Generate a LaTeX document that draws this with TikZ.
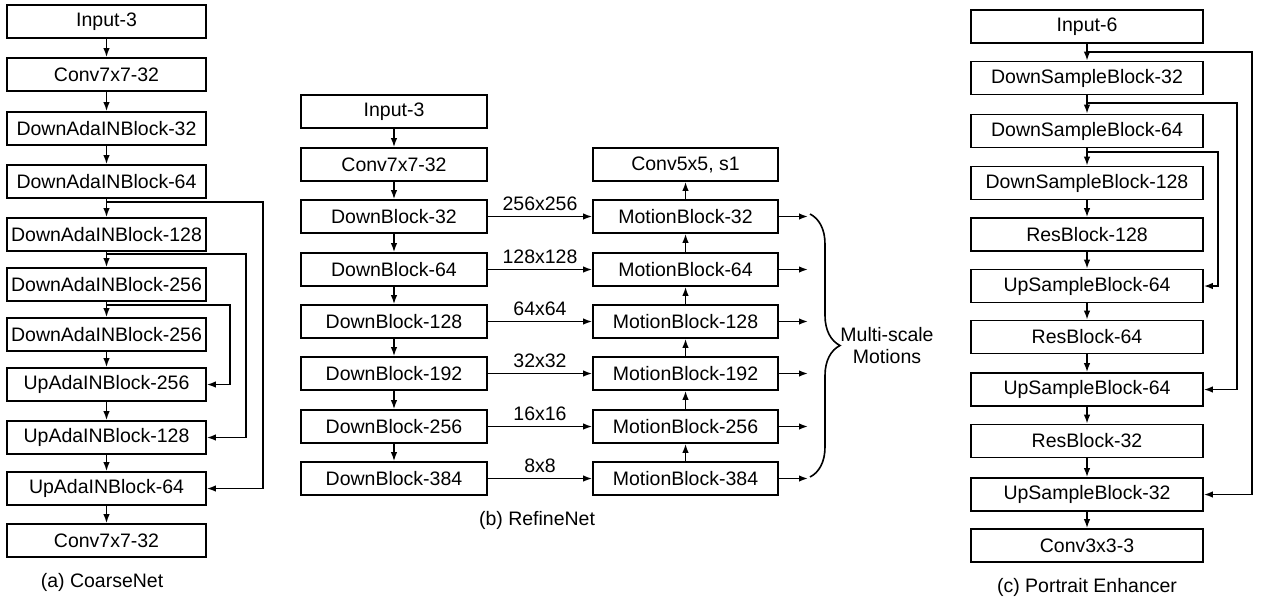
\documentclass[tikz,border=0pt]{standalone}
\usepackage{fontspec}
\setmainfont{Liberation Sans}
\usetikzlibrary{arrows.meta,decorations.pathreplacing}

\begin{document}
\begin{tikzpicture}[x=1pt,y=-1pt,
  txt/.style={font=\fontsize{19.5}{22}\selectfont},
  blk/.style={txt,draw,line width=1.7pt,minimum height=33pt,inner sep=0pt},
  ablk/.style={blk,minimum width=199pt},
  bblk/.style={blk,minimum width=186pt},
  mblk/.style={blk,minimum width=185pt},
  cblk/.style={blk,minimum width=232pt},
  arr/.style={line width=1.6pt,-{Latex[length=9pt,width=6.5pt]}},
  lbl/.style={txt,inner sep=0pt}]
\useasboundingbox (0,0) rectangle (1261,600);

% ---------------- (a) CoarseNet ----------------
\node[ablk] (a1)  at (106.5,21.5)  {Input-3};
\node[ablk] (a2)  at (106.5,74.5)  {Conv7x7-32};
\node[ablk] (a3)  at (106.5,128.5) {DownAdaINBlock-32};
\node[ablk] (a4)  at (106.5,181.5) {DownAdaINBlock-64};
\node[ablk] (a5)  at (106.5,234.5) {DownAdaINBlock-128};
\node[ablk] (a6)  at (106.5,284.5) {DownAdaINBlock-256};
\node[ablk] (a7)  at (106.5,334.5) {DownAdaINBlock-256};
\node[ablk] (a8)  at (106.5,384.5) {UpAdaINBlock-256};
\node[ablk] (a9)  at (106.5,437.5) {UpAdaINBlock-128};
\node[ablk] (a10) at (106.5,488.5) {UpAdaINBlock-64};
\node[ablk] (a11) at (106.5,540.5) {Conv7x7-32};
\foreach \u/\v in {a1/a2,a2/a3,a3/a4,a4/a5,a5/a6,a6/a7,a7/a8,a8/a9,a9/a10,a10/a11}
  \draw[arr] (\u) -- (\v);

% skip connections
\coordinate (ra1) at (263,0);
\coordinate (ra2) at (246,0);
\coordinate (ra3) at (230,0);
\coordinate (ja1) at ([yshift=-3pt]a4.south);
\coordinate (ja2) at ([yshift=-2pt]a5.south);
\coordinate (ja3) at ([yshift=-3pt]a6.south);
\draw[arr] (ja1) -- (ja1 -| ra1) |- (a10.east);
\draw[arr] (ja2) -- (ja2 -| ra2) |- (a9.east);
\draw[arr] (ja3) -- (ja3 -| ra3) |- (a8.east);

\node[lbl] (capa) at (102,582) {(a) CoarseNet};

% ---------------- (b) RefineNet ----------------
\node[bblk] (b1) at (394,111.5) {Input-3};
\node[bblk] (b2) at (394,164.5) {Conv7x7-32};
\node[bblk] (b3) at (394,216.5) {DownBlock-32};
\node[bblk] (b4) at (394,269.5) {DownBlock-64};
\node[bblk] (b5) at (394,321.5) {DownBlock-128};
\node[bblk] (b6) at (394,373.5) {DownBlock-192};
\node[bblk] (b7) at (394,426.5) {DownBlock-256};
\node[bblk] (b8) at (394,478.5) {DownBlock-384};
\foreach \u/\v in {b1/b2,b2/b3,b3/b4,b4/b5,b5/b6,b6/b7,b7/b8}
  \draw[arr] (\u) -- (\v);

\node[mblk] (m2) at (685.5,164.5) {Conv5x5, s1};
\node[mblk] (m3) at (685.5,216.5) {MotionBlock-32};
\node[mblk] (m4) at (685.5,269.5) {MotionBlock-64};
\node[mblk] (m5) at (685.5,321.5) {MotionBlock-128};
\node[mblk] (m6) at (685.5,373.5) {MotionBlock-192};
\node[mblk] (m7) at (685.5,426.5) {MotionBlock-256};
\node[mblk] (m8) at (685.5,478.5) {MotionBlock-384};
\foreach \u/\v in {m8/m7,m7/m6,m6/m5,m5/m4,m4/m3,m3/m2}
  \draw[arr] (\u) -- (\v);

\draw[arr] (b3) -- node[lbl,above=5pt] {256x256} (m3);
\draw[arr] (b4) -- node[lbl,above=5pt] {128x128} (m4);
\draw[arr] (b5) -- node[lbl,above=5pt] {64x64} (m5);
\draw[arr] (b6) -- node[lbl,above=5pt] {32x32} (m6);
\draw[arr] (b7) -- node[lbl,above=5pt] {16x16} (m7);
\draw[arr] (b8) -- node[lbl,above=5pt] {8x8} (m8);

\coordinate (ox) at (808,0);
\foreach \m in {m3,m4,m5,m6,m7,m8}
  \draw[arr] (\m.east) -- (\m.east -| ox);

\coordinate (bt) at (810,214);
\coordinate (bb) at (810,477);
\draw[line width=1.6pt,decorate,decoration={brace,amplitude=30pt}] (bt) -- (bb);
\node[lbl,align=center] (ms) at (887,346) {Multi-scale\\Motions};

\node[lbl] (capb) at (537,520) {(b) RefineNet};

% ---------------- (c) Portrait Enhancer ----------------
\node[cblk] (c1)  at (1087,26.5)  {Input-6};
\node[cblk] (c2)  at (1087,78)    {DownSampleBlock-32};
\node[cblk] (c3)  at (1087,131)   {DownSampleBlock-64};
\node[cblk] (c4)  at (1087,183)   {DownSampleBlock-128};
\node[cblk] (c5)  at (1087,234.5) {ResBlock-128};
\node[cblk] (c6)  at (1087,286)   {UpSampleBlock-64};
\node[cblk] (c7)  at (1087,337)   {ResBlock-64};
\node[cblk] (c8)  at (1087,389.5) {UpSampleBlock-64};
\node[cblk] (c9)  at (1087,441)   {ResBlock-32};
\node[cblk] (c10) at (1087,494.5) {UpSampleBlock-32};
\node[cblk] (c11) at (1087,545.5) {Conv3x3-3};
\foreach \u/\v in {c1/c2,c2/c3,c3/c4,c4/c5,c5/c6,c6/c7,c7/c8,c8/c9,c9/c10,c10/c11}
  \draw[arr] (\u) -- (\v);

\coordinate (rc1) at (1252,0);
\coordinate (rc2) at (1237,0);
\coordinate (rc3) at (1218,0);
\coordinate (jc1) at (1087,52);
\coordinate (jc2) at (1087,103);
\coordinate (jc3) at (1087,152);
\draw[arr] (jc1) -- (jc1 -| rc1) |- (c10.east);
\draw[arr] (jc2) -- (jc2 -| rc2) |- (c8.east);
\draw[arr] (jc3) -- (jc3 -| rc3) |- (c6.east);

\node[lbl] (capc) at (1087,587) {(c) Portrait Enhancer};
\end{tikzpicture}
\end{document}
